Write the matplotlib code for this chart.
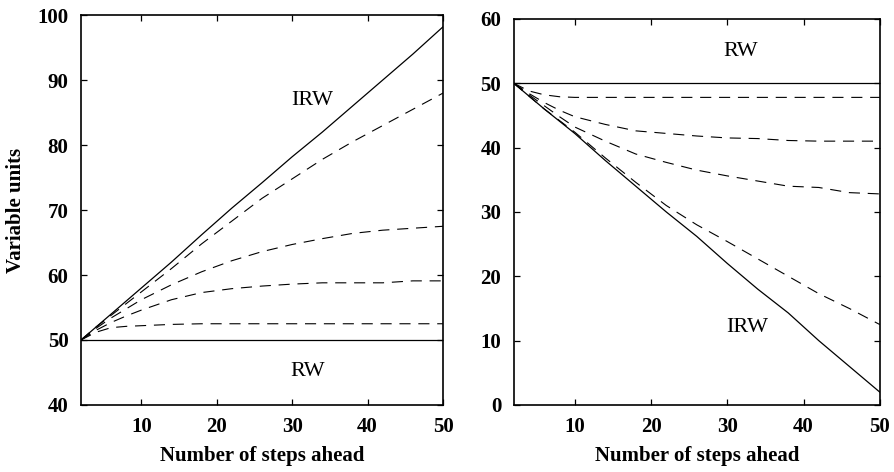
import matplotlib.pyplot as plt

steps = [2, 4, 6, 8, 10, 14, 18, 22, 26, 30, 34, 38, 42, 46, 50]

# left panel: positive trend
left_irw = [50, 52, 54, 56, 58, 62, 66.2, 70.3, 74.2, 78.2, 82, 86, 90, 94, 98.2]
left_rw = [50] * len(steps)
left_dashed = [
    [50, 52, 53.8, 55.6, 57.4, 61, 64.8, 68.3, 71.8, 74.8, 77.8, 80.5, 83, 85.5, 88],
    [50, 51.8, 53.4, 54.8, 56.2, 58.5, 60.5, 62.2, 63.6, 64.7, 65.6, 66.4, 66.9, 67.2, 67.5],
    [50, 51.5, 52.7, 53.7, 54.6, 56.2, 57.3, 57.9, 58.3, 58.6, 58.8, 58.8, 58.8, 59.1, 59.1],
    [50, 51.2, 51.9, 52.1, 52.2, 52.4, 52.5, 52.5, 52.5, 52.5, 52.5, 52.5, 52.5, 52.5, 52.5],
]

# right panel: negative trend
right_irw = [50, 48, 46, 44.1, 42.2, 38, 34, 30, 26.2, 22, 18, 14.3, 10, 6, 2]
right_rw = [50] * len(steps)
right_dashed = [
    [50, 48, 46, 44.2, 42.4, 38.4, 34.6, 31, 28, 25.4, 22.7, 20, 17.3, 15, 12.5],
    [50, 48.2, 46.5, 44.8, 43.2, 41, 39, 37.7, 36.5, 35.6, 34.8, 34, 33.8, 33, 32.8],
    [50, 48.4, 47, 45.8, 44.8, 43.6, 42.6, 42.2, 41.8, 41.5, 41.4, 41.1, 41, 41, 41],
    [50, 48.8, 48.2, 47.9, 47.8, 47.8, 47.8, 47.8, 47.8, 47.8, 47.8, 47.8, 47.8, 47.8, 47.8],
]

plt.rcParams['font.family'] = ['Liberation Serif', 'DejaVu Serif']

fig = plt.figure(figsize=(8.95, 4.72), dpi=100)
ax1 = fig.add_axes([0.0905, 0.142, 0.4045, 0.826])
ax2 = fig.add_axes([0.574, 0.142, 0.409, 0.818])


def draw(ax, irw, rw, dashed, ylim, yticks, irw_pos, rw_pos):
    ax.plot(steps, irw, color='black', lw=0.9)
    ax.plot(steps, rw, color='black', lw=0.9)
    for d in dashed:
        ax.plot(steps, d, color='black', lw=0.8, dashes=(10, 7))
    ax.set_xlim(2, 50)
    ax.set_ylim(*ylim)
    ax.set_xticks([10, 20, 30, 40, 50])
    ax.set_yticks(yticks)
    ax.tick_params(direction='in', top=True, right=True, length=4, width=0.9,
                   labelsize=15, pad=9)
    for lab in ax.get_xticklabels() + ax.get_yticklabels():
        lab.set_fontweight('bold')
    for sp in ax.spines.values():
        sp.set_linewidth(1.2)
    ax.set_xlabel('Number of steps ahead', fontsize=15, fontweight='bold', labelpad=6)
    ax.text(irw_pos[0], irw_pos[1], 'IRW', fontsize=16, ha='center', va='center')
    ax.text(rw_pos[0], rw_pos[1], 'RW', fontsize=16, ha='center', va='center')


draw(ax1, left_irw, left_rw, left_dashed, (40, 100), range(40, 101, 10), (32.6, 86.9), (32, 45.1))
draw(ax2, right_irw, right_rw, right_dashed, (0, 60), range(0, 61, 10), (32.6, 12), (31.8, 54.9))
ax1.set_ylabel('Variable units', fontsize=15, fontweight='bold', labelpad=8)

fig.savefig('out.png', dpi=100)
